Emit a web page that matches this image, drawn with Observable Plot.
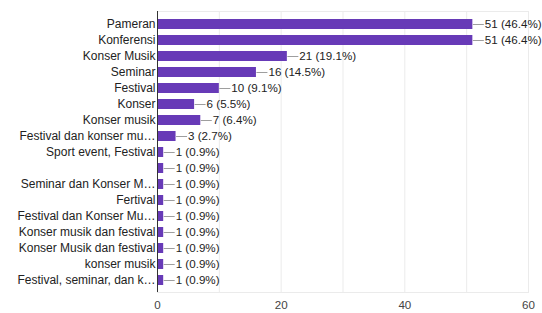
<!DOCTYPE html>
<html>
<head>
<meta charset="utf-8">
<script src="https://cdn.jsdelivr.net/npm/d3@7"></script>
<script src="https://cdn.jsdelivr.net/npm/@observablehq/plot@0.6"></script>
<style>
  html, body { margin: 0; padding: 0; background: #fff; }
  svg { display: block; }
</style>
</head>
<body>
<div id="chart"></div>
<script>
const categories = [
  "Pameran", "Konferensi", "Konser Musik", "Seminar", "Festival", "Konser",
  "Konser musik", "Festival dan konser mu…", "Sport event, Festival", "",
  "Seminar dan Konser M…", "Fertival", "Festival dan Konser Mu…",
  "Konser musik dan festival", "Konser Musik dan festival", "konser musik",
  "Festival, seminar, dan k…"
];
const counts = [51, 51, 21, 16, 10, 6, 7, 3, 1, 1, 1, 1, 1, 1, 1, 1, 1];
const percents = ["46.4%", "46.4%", "19.1%", "14.5%", "9.1%", "5.5%", "6.4%", "2.7%",
  "0.9%", "0.9%", "0.9%", "0.9%", "0.9%", "0.9%", "0.9%", "0.9%", "0.9%"];
const xTicks = [0, 20, 40, 60];
const gridTicks = [10, 20, 30, 40, 50, 60];

const data = categories.map((c, i) => ({key: String(i), label: c, value: counts[i], pct: percents[i]}));
const keys = data.map(d => d.key);
const leaderPx = 11;

const chart = Plot.plot({
  width: 542,
  height: 313,
  marginLeft: 157,
  marginRight: 14,
  marginTop: 11,
  marginBottom: 21,
  style: {fontFamily: "Liberation Sans, Arial, sans-serif", fontSize: "12px", color: "#222"},
  x: {domain: [0, 60], ticks: xTicks, label: null},
  y: {domain: keys, padding: 0.4, label: null},
  marks: [
    Plot.frame({stroke: "#ebebeb"}),
    Plot.ruleX(gridTicks, {stroke: "#ebebeb"}),
    Plot.barX(data, {y: "key", x: "value", fill: "#673ab7"}),
    Plot.ruleX([0], {stroke: "#333"}),
    Plot.link(data, {
      y1: "key", y2: "key",
      x1: "value",
      x2: d => d.value + leaderPx * 60 / (542 - 157 - 14),
      stroke: "#9e9e9e", strokeWidth: 1
    }),
    Plot.text(data, {y: "key", x: "value", text: d => `${d.value} (${d.pct})`, textAnchor: "start", dx: leaderPx + 1, fill: "#222", fontSize: 11.6}),
    Plot.axisY({tickSize: 0, tickPadding: 2, fill: "#222", fontSize: 12, label: null, tickFormat: k => categories[+k]}),
    Plot.axisX({ticks: xTicks, tickSize: 0, tickPadding: 8, fill: "#444", fontSize: 11.6, label: null})
  ]
});
document.getElementById("chart").appendChild(chart);
</script>
</body>
</html>
